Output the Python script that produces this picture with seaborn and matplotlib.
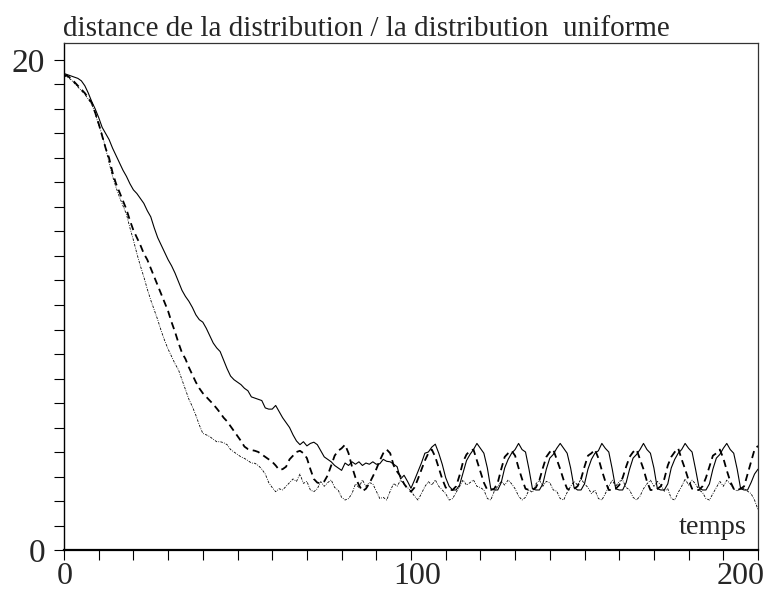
import matplotlib
matplotlib.use("Agg")
import matplotlib.pyplot as plt
import matplotlib.transforms as mtransforms
import seaborn as sns
import numpy as np
import pandas as pd

temps = list(range(0, 201))

serie_continue = [
    19.45, 19.40, 19.35, 19.30, 19.25, 19.15, 18.95, 18.65, 18.30, 18.00,
    17.65, 17.25, 17.00, 16.75, 16.40, 16.10, 15.80, 15.50, 15.25, 14.95,
    14.70, 14.55, 14.35, 14.15, 13.85, 13.60, 13.15, 12.75, 12.45, 12.15,
    11.85, 11.60, 11.30, 10.95, 10.60, 10.35, 10.15, 9.90, 9.60, 9.40,
    9.30, 9.05, 8.75, 8.45, 8.25, 8.10, 7.75, 7.40, 7.10, 6.95,
    6.85, 6.75, 6.60, 6.50, 6.25, 6.20, 6.15, 6.10, 5.80, 5.75,
    5.75, 5.90, 5.65, 5.40, 5.20, 5.00, 4.70, 4.45, 4.30, 4.42,
    4.25, 4.35, 4.40, 4.30, 4.05, 3.80, 3.70, 3.60, 3.45, 3.35,
    3.25, 3.55, 3.45, 3.60, 3.50, 3.60, 3.45, 3.55, 3.50, 3.60,
    3.50, 3.52, 3.70, 3.62, 3.60, 3.50, 3.40, 2.90, 3.05, 2.80,
    2.52, 2.85, 3.20, 3.55, 3.95, 4.00, 4.20, 4.32, 3.95, 3.50,
    2.95, 2.60, 2.45, 2.45, 2.65, 3.15, 3.65, 3.90, 4.10, 4.35,
    4.15, 3.95, 3.35, 2.50, 2.45, 2.45, 2.75, 3.35, 3.70, 3.95,
    4.10, 4.35, 4.10, 4.00, 3.30, 2.50, 2.45, 2.45, 2.70, 3.30,
    3.75, 3.90, 4.15, 4.35, 4.15, 3.95, 3.35, 2.55, 2.45, 2.45,
    2.70, 3.30, 3.70, 3.95, 4.05, 4.35, 4.15, 4.00, 3.30, 2.50,
    2.45, 2.45, 2.75, 3.30, 3.75, 3.90, 4.10, 4.35, 4.10, 3.95,
    3.35, 2.50, 2.45, 2.45, 2.70, 3.35, 3.70, 3.95, 4.10, 4.35,
    4.15, 4.00, 3.30, 2.55, 2.45, 2.45, 2.70, 3.30, 3.75, 3.90,
    4.15, 4.35, 4.10, 3.95, 3.30, 2.50, 2.45, 2.45, 2.75, 3.10,
    3.30,
]

serie_tirets = [
    19.40, 19.35, 19.25, 19.10, 18.95, 18.80, 18.65, 18.45, 18.25, 17.85,
    17.40, 16.90, 16.40, 16.00, 15.40, 14.95, 14.60, 14.25, 13.90, 13.45,
    13.05, 12.75, 12.45, 12.10, 11.85, 11.50, 11.15, 10.80, 10.45, 10.10,
    9.75, 9.30, 8.90, 8.45, 8.05, 7.80, 7.45, 7.15, 6.85, 6.60,
    6.40, 6.25, 6.10, 5.95, 5.78, 5.60, 5.40, 5.25, 5.05, 4.85,
    4.65, 4.45, 4.22, 4.12, 4.08, 4.05, 4.00, 3.90, 3.80, 3.70,
    3.60, 3.45, 3.27, 3.30, 3.40, 3.70, 3.85, 4.00, 4.05, 3.95,
    3.75, 3.30, 2.90, 2.75, 2.72, 2.80, 3.05, 3.45, 3.85, 4.05,
    4.15, 4.30, 3.95, 3.40, 2.95, 2.65, 2.40, 2.50, 2.72, 3.00,
    3.30, 3.65, 3.95, 4.10, 3.95, 3.45, 3.20, 3.00, 2.70, 2.50,
    2.38, 2.55, 2.90, 3.27, 3.65, 3.95, 4.10, 3.80, 3.35, 2.90,
    2.55, 2.45, 2.45, 2.60, 3.05, 3.60, 3.90, 4.05, 4.10, 3.65,
    3.20, 2.75, 2.45, 2.45, 2.50, 2.75, 3.30, 3.80, 3.95, 4.05,
    3.85, 3.35, 2.90, 2.50, 2.45, 2.45, 2.55, 2.85, 3.35, 3.80,
    4.00, 4.10, 3.70, 3.30, 2.85, 2.50, 2.45, 2.50, 2.60, 2.90,
    3.40, 3.85, 3.95, 4.10, 3.75, 3.25, 2.80, 2.45, 2.45, 2.50,
    2.65, 2.95, 3.40, 3.80, 4.00, 4.10, 3.70, 3.30, 2.80, 2.45,
    2.45, 2.50, 2.60, 2.90, 3.45, 3.80, 4.00, 4.15, 3.70, 3.30,
    2.85, 2.50, 2.45, 2.45, 2.60, 2.95, 3.40, 3.85, 3.95, 4.10,
    3.75, 3.25, 2.80, 2.50, 2.45, 2.50, 2.60, 3.10, 3.60, 4.10,
    4.25,
]

serie_pointilles = [
    19.35, 19.30, 19.20, 19.05, 18.90, 18.75, 18.60, 18.40, 18.20, 17.80,
    17.35, 16.95, 16.40, 15.80, 15.25, 14.80, 14.40, 14.05, 13.70, 13.15,
    12.65, 12.10, 11.60, 11.15, 10.65, 10.20, 9.80, 9.40, 8.95, 8.55,
    8.20, 7.90, 7.60, 7.35, 6.95, 6.55, 6.15, 5.85, 5.50, 5.10,
    4.76, 4.70, 4.63, 4.52, 4.42, 4.42, 4.38, 4.30, 4.10, 4.00,
    3.90, 3.80, 3.74, 3.65, 3.55, 3.54, 3.45, 3.30, 3.10, 2.75,
    2.55, 2.38, 2.50, 2.45, 2.60, 2.75, 2.90, 2.80, 3.10, 2.72,
    2.80, 2.45, 2.38, 2.50, 2.79, 2.60, 2.75, 2.86, 2.55, 2.45,
    2.15, 2.04, 2.10, 2.30, 2.70, 2.55, 2.86, 2.60, 2.75, 2.70,
    2.40, 2.10, 2.15, 2.04, 2.40, 2.72, 2.60, 2.85, 2.70, 2.55,
    2.40, 2.20, 2.04, 2.30, 2.59, 2.79, 2.65, 2.86, 2.60, 2.45,
    2.30, 2.04, 2.10, 2.35, 2.59, 2.86, 2.65, 2.75, 2.86, 2.60,
    2.55, 2.45, 2.10, 2.04, 2.40, 2.60, 2.80, 2.65, 2.86, 2.70,
    2.50, 2.20, 2.04, 2.15, 2.45, 2.35, 2.70, 2.85, 2.60, 2.80,
    2.75, 2.45, 2.40, 2.10, 2.04, 2.35, 2.60, 2.80, 2.65, 2.90,
    2.70, 2.55, 2.30, 2.45, 2.10, 2.04, 2.30, 2.60, 2.85, 2.60,
    2.80, 2.85, 2.55, 2.45, 2.15, 2.04, 2.20, 2.50, 2.70, 2.85,
    2.60, 2.80, 2.65, 2.40, 2.50, 2.10, 2.04, 2.35, 2.60, 2.90,
    2.65, 2.85, 2.70, 2.45, 2.35, 2.10, 2.04, 2.30, 2.55, 2.80,
    2.60, 2.85, 2.70, 2.50, 2.40, 2.55, 2.50, 2.40, 2.30, 2.04,
    1.65,
]

titre = "distance de la distribution / la distribution  uniforme"
etiquette_x = "temps"
x_ticks_major = [0, 100, 200]
y_ticks_major = [0, 20]

sns.set_theme(style="white")
plt.rcParams["font.family"] = ["Liberation Serif", "DejaVu Serif"]

fig = plt.figure(figsize=(7.68, 5.94), dpi=100)
ax = fig.add_axes([64 / 768, 1 - 550 / 594, (758 - 64) / 768, (550 - 43) / 594])

df = pd.DataFrame({"t": temps, "a": serie_continue, "b": serie_tirets, "c": serie_pointilles})

sns.lineplot(data=df, x="t", y="a", ax=ax, color="black", linewidth=0.8, linestyle="-")
sns.lineplot(data=df, x="t", y="b", ax=ax, color="black", linewidth=1.3,
             linestyle=(0, (4, 2.6)))
sns.lineplot(data=df, x="t", y="c", ax=ax, color="black", linewidth=0.6,
             linestyle=(0, (3, 1.5, 1, 1.5)))

ax.set_xlim(0, 200)
ax.set_ylim(0, (550 - 43) / 24.5)
ax.set_xlabel("")
ax.set_ylabel("")

ax.set_xticks(x_ticks_major)
ax.set_xticks(list(range(0, 201, 10)), minor=True)
ax.set_yticks(y_ticks_major)
ax.set_yticks(list(range(0, 21, 1)), minor=True)
ax.tick_params(axis="both", which="both", direction="out", length=7.5, width=0.8,
               color="black", bottom=True, left=True)
ax.tick_params(axis="x", which="major", labelsize=23, pad=1)
ax.tick_params(axis="y", which="major", labelsize=24, pad=6)

fig.canvas.draw()
decalages = [1, 6, -17]
for lab, dx in zip(ax.get_xticklabels(), decalages):
    lab.set_fontfamily(["Liberation Serif"])
    lab.set_transform(lab.get_transform() +
                      mtransforms.ScaledTranslation(dx / 100, 0, fig.dpi_scale_trans))
for lab in ax.get_yticklabels():
    lab.set_fontfamily(["Liberation Serif"])

for side in ["top", "right"]:
    ax.spines[side].set_linewidth(0.9)
    ax.spines[side].set_color("#333333")
ax.spines["left"].set_linewidth(1.0)
ax.spines["left"].set_color("black")
ax.spines["bottom"].set_linewidth(1.6)
ax.spines["bottom"].set_color("black")

fig.text(63 / 768, 1 - 36 / 594, titre, fontsize=21, ha="left", va="baseline",
         family=["Liberation Serif"])
ax.text(196.8, 0.65, etiquette_x, fontsize=20.5, ha="right", va="baseline",
        family=["Liberation Serif"])

fig.savefig("out.png", dpi=100)
